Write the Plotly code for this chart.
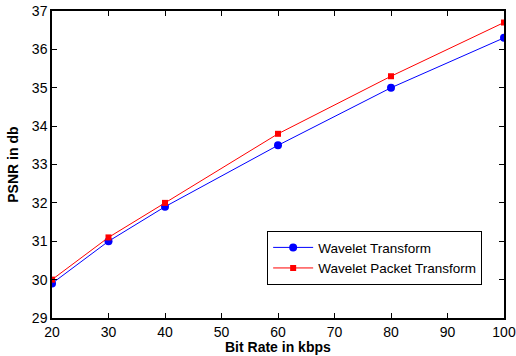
import plotly.graph_objects as go

bit_rate = [20, 30, 40, 60, 80, 100]
wavelet = [29.9, 31.0, 31.9, 33.5, 35.0, 36.3]
packet = [30.0, 31.1, 32.0, 33.8, 35.3, 36.7]

fig = go.Figure()
fig.add_trace(go.Scatter(x=bit_rate, y=wavelet, mode="lines+markers", name="Wavelet Transform",
                         line=dict(color="#0000ff", width=1), marker=dict(symbol="circle", size=8, color="#0000ff")))
fig.add_trace(go.Scatter(x=bit_rate, y=packet, mode="lines+markers", name="Wavelet Packet Transform",
                         line=dict(color="#ff0000", width=1), marker=dict(symbol="square", size=6, color="#ff0000")))

axis_common = dict(showgrid=False, zeroline=False, showline=True, linecolor="black", linewidth=1.5,
                   mirror="ticks", ticks="inside", ticklen=5, tickcolor="black",
                   automargin=False,
                   tickfont=dict(family="Arial", size=14, color="black"))
fig.update_xaxes(range=[20, 100], tickvals=[20, 30, 40, 50, 60, 70, 80, 90, 100], **axis_common)
fig.update_yaxes(range=[29, 37], dtick=1, **axis_common)
fig.add_annotation(text="<b>Bit Rate in kbps</b>", xref="paper", yref="paper", x=0.5, y=-0.095,
                   xanchor="center", yanchor="middle", showarrow=False,
                   font=dict(family="Arial", size=14, color="black"))
fig.add_annotation(text="<b>PSNR in db</b>", xref="paper", yref="paper", x=-0.088, y=0.5,
                   xanchor="center", yanchor="middle", showarrow=False, textangle=-90,
                   font=dict(family="Arial", size=14, color="black"))
fig.update_layout(width=516, height=356, margin=dict(l=52, r=12, t=11, b=38),
                  plot_bgcolor="white", paper_bgcolor="white",
                  legend=dict(x=0.476, y=0.283, xanchor="left", yanchor="top",
                              bgcolor="white", bordercolor="black", borderwidth=1,
                              font=dict(family="Arial", size=13.5, color="black"),
                              tracegroupgap=0, itemwidth=40))
fig.write_html("out.html")
